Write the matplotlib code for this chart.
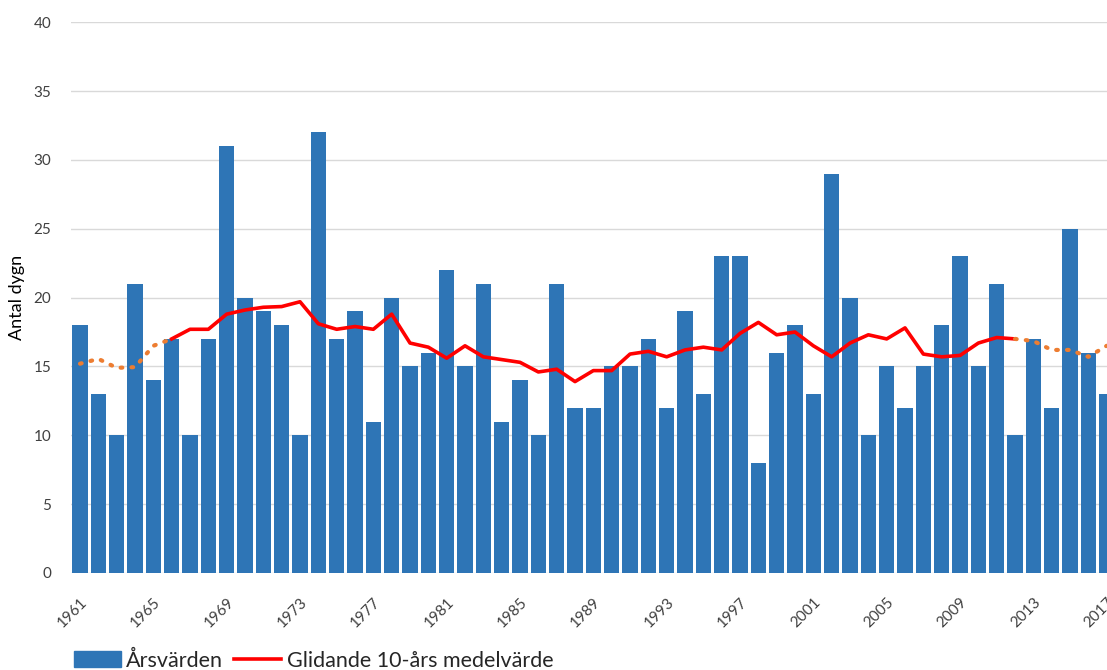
import matplotlib.pyplot as plt
from matplotlib.patches import Patch
from matplotlib.lines import Line2D

plt.rcParams['font.family'] = ['Lato', 'DejaVu Sans']

years = list(range(1961, 2018))
arsvarden = [18, 13, 10, 21, 14, 17, 10, 17, 31, 20,
             19, 18, 10, 32, 17, 19, 11, 20, 15, 16,
             22, 15, 21, 11, 14, 10, 21, 12, 12, 15,
             15, 17, 12, 19, 13, 23, 23, 8, 16, 18,
             13, 29, 20, 10, 15, 12, 15, 18, 23, 15,
             21, 10, 17, 12, 25, 16, 13]

# glidande medelvärde (heldragen del)
ma_years = list(range(1966, 2013))
ma_values = [17.0, 17.7, 17.7, 18.8, 19.1, 19.3, 19.35, 19.7, 18.1, 17.7,
             17.9, 17.7, 18.8, 16.7, 16.4, 15.6, 16.5, 15.7, 15.5, 15.3,
             14.6, 14.8, 13.9, 14.7, 14.7, 15.9, 16.1, 15.7, 16.2, 16.4,
             16.2, 17.4, 18.2, 17.3, 17.5, 16.5, 15.7, 16.7, 17.3, 17.0,
             17.8, 15.9, 15.7, 15.8, 16.7, 17.1, 17.0]

# prickade ändar
start_years = [1961, 1962, 1963, 1964, 1965, 1966]
start_values = [15.2, 15.55, 14.9, 14.95, 16.5, 17.0]
end_years = [2012, 2013, 2014, 2015, 2016, 2017]
end_values = [17.0, 16.85, 16.2, 16.2, 15.7, 16.5]

tick_years = years[::4]

fig = plt.figure(figsize=(11.07, 6.70), dpi=100)
ax = fig.add_axes([0.064, 0.1448, 0.944, 0.822])

ax.bar(years, arsvarden, width=0.84, color='#2E75B6', zorder=2)
ax.plot(ma_years, ma_values, color='#FF0000', lw=2.6, zorder=3)
ax.plot(start_years, start_values, color='#ED7D31', lw=3, ls=(0, (0.4, 2.2)),
        dash_capstyle='round', zorder=3)
ax.plot(end_years, end_values, color='#ED7D31', lw=3, ls=(0, (0.4, 2.2)),
        dash_capstyle='round', zorder=3)

ax.set_xlim(1960.5, 2017.5)
ax.set_ylim(0, 40)
ax.set_yticks(range(0, 41, 5))
ax.set_xticks(tick_years)
ax.set_xticklabels([str(y) for y in tick_years], rotation=45, ha='right',
                   rotation_mode='anchor')
ax.tick_params(axis='both', length=0, labelsize=11, colors='#404040')
ax.tick_params(axis='y', pad=14)
ax.tick_params(axis='x', pad=16)
ax.grid(axis='y', color='#D9D9D9', lw=1, zorder=0)
for s in ax.spines.values():
    s.set_visible(False)
ax.set_ylabel('Antal dygn', fontsize=13, color='#000000', labelpad=6)

handles = [Patch(color='#2E75B6'), Line2D([], [], color='#FF0000', lw=2.6)]
fig.legend(handles, ['Årsvärden', 'Glidande 10-års medelvärde'],
           loc='lower left', bbox_to_anchor=(0.049, -0.03), ncol=2,
           frameon=False, fontsize=15.5, handlelength=2.2, handleheight=0.75,
           columnspacing=0.5, handletextpad=0.25, labelcolor='#262626')

fig.savefig('out.png', dpi=100)
